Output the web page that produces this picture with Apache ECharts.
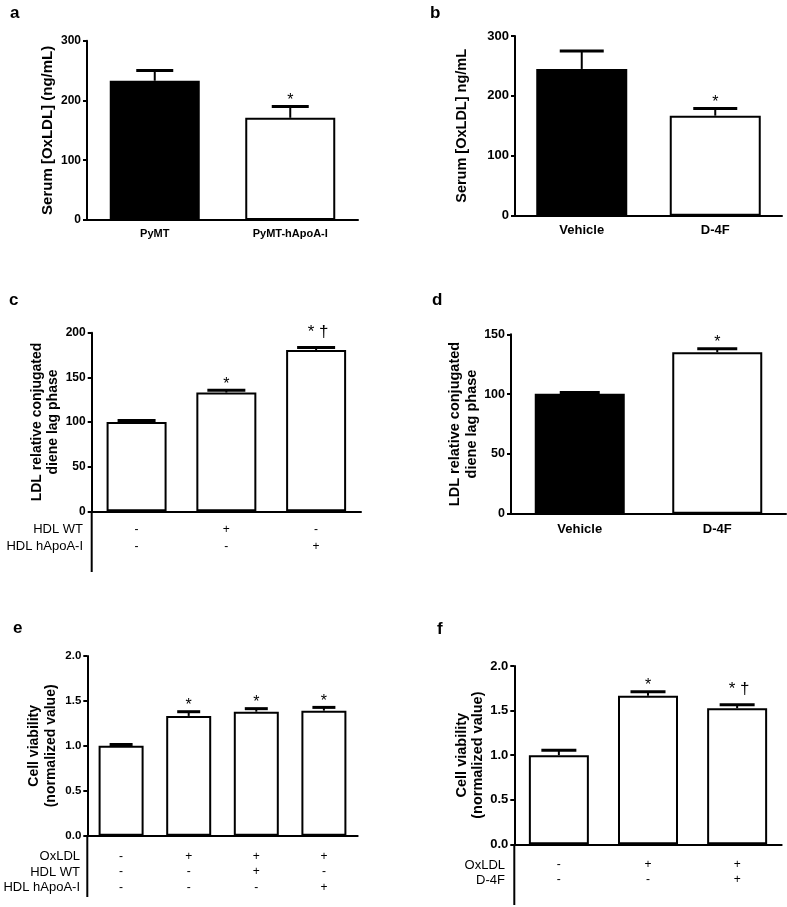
<!DOCTYPE html>
<html><head><meta charset="utf-8">
<script src="https://cdn.jsdelivr.net/npm/echarts@6/dist/echarts.min.js"></script>
<style>html,body{margin:0;padding:0;background:#fff}#c{width:787px;height:907px}</style>
</head><body><div id="c"></div>
<script>
// ---------- DATA ----------
const aCats = ['PyMT', 'PyMT-hApoA-I'];
const aMean = [233, 171];
const aUpper = [250, 190];
const aSig = ['', '*'];

const bCats = ['Vehicle', 'D-4F'];
const bMean = [245, 167];
const bUpper = [275, 179];
const bSig = ['', '*'];

const cHdlWt = ['-', '+', '-'];
const cHdlApoA = ['-', '-', '+'];
const cMean = [100, 133, 180.5];
const cUpper = [101.8, 135.6, 183.3];
const cSig = ['', '*', '* †'];

const dCats = ['Vehicle', 'D-4F'];
const dMean = [100.3, 135];
const dUpper = [101.3, 138];
const dSig = ['', '*'];

const eOxLDL = ['-', '+', '+', '+'];
const eHdlWt = ['-', '-', '+', '-'];
const eHdlApoA = ['-', '-', '-', '+'];
const eMean = [1.0, 1.333, 1.38, 1.392];
const eUpper = [1.015, 1.38, 1.414, 1.428];
const eSig = ['', '*', '*', '*'];

const fOxLDL = ['-', '+', '+'];
const fD4F = ['-', '-', '+'];
const fMean = [1.0, 1.665, 1.527];
const fUpper = [1.056, 1.71, 1.566];
const fSig = ['', '*', '* †'];

// ---------- STYLE ----------
const FONT = "'Liberation Sans', Arial, sans-serif";
const BLACK = '#000', WHITE = '#fff';

const panels = [
  {grid:{left:87, top:40.7, width:271, height:179.3}, cats:aCats, mean:aMean, upper:aUpper, sig:aSig,
   fills:[BLACK, WHITE], max:300, interval:100, dec:0, barW:90, capW:37,
   yName:'Serum [OxLDL] (ng/mL)', yNameSize:15, nameGap:31, lh:16, tickSize:12, xSize:11, xBold:true, xMargin:7},
  {grid:{left:515, top:36, width:267, height:179.7}, cats:bCats, mean:bMean, upper:bUpper, sig:bSig,
   fills:[BLACK, WHITE], max:300, interval:100, dec:0, barW:91, capW:44,
   yName:'Serum [OxLDL] ng/mL', yNameSize:14.5, nameGap:45, lh:16, tickSize:13, xSize:13, xBold:true, xMargin:7},
  {grid:{left:91.7, top:332.7, width:269.3, height:178.6}, cats:cHdlWt.map((v,i)=>v+'\n'+cHdlApoA[i]), mean:cMean, upper:cUpper, sig:cSig,
   fills:[WHITE, WHITE, WHITE], max:200, interval:50, dec:0, barW:60, capW:38,
   yName:'LDL relative conjugated\ndiene lag phase', yNameSize:14, nameGap:29, lh:16.5, tickSize:12, xSize:12, xBold:false, xMargin:9.5, rowLH:17.4},
  {grid:{left:511, top:334.3, width:275, height:179.4}, cats:dCats, mean:dMean, upper:dUpper, sig:dSig,
   fills:[BLACK, WHITE], max:150, interval:50, dec:0, barW:90, capW:40,
   yName:'LDL relative conjugated\ndiene lag phase', yNameSize:14.5, nameGap:30, lh:17, tickSize:12.5, xSize:13, xBold:true, xMargin:8},
  {grid:{left:87.3, top:656, width:270.4, height:179.7}, cats:eOxLDL.map((v,i)=>v+'\n'+eHdlWt[i]+'\n'+eHdlApoA[i]), mean:eMean, upper:eUpper, sig:eSig,
   fills:[WHITE, WHITE, WHITE, WHITE], max:2, interval:0.5, dec:1, barW:45, capW:23,
   yName:'Cell viability\n(normalized value)', yNameSize:14, nameGap:27, lh:17.5, tickSize:11.5, xSize:12, xBold:false, xMargin:13, rowLH:15.5},
  {grid:{left:514.3, top:666, width:267.4, height:178.3}, cats:fOxLDL.map((v,i)=>v+'\n'+fD4F[i]), mean:fMean, upper:fUpper, sig:fSig,
   fills:[WHITE, WHITE, WHITE], max:2, interval:0.5, dec:1, barW:60, capW:35,
   yName:'Cell viability\n(normalized value)', yNameSize:14.5, nameGap:27, lh:16, tickSize:13, xSize:12, xBold:false, xMargin:13, rowLH:15}
];

const grid = [], xAxis = [], yAxis = [], series = [];
panels.forEach((p, i) => {
  grid.push(Object.assign({containLabel:false}, p.grid));
  xAxis.push({
    type:'category', gridIndex:i, data:p.cats,
    axisLine:{lineStyle:{color:BLACK, width:2}}, axisTick:{show:false},
    axisLabel:{color:BLACK, fontFamily:FONT, fontSize:p.xSize, fontWeight:p.xBold?'bold':'normal',
      margin:p.xMargin, lineHeight:p.rowLH || p.xSize+2, interval:0}
  });
  yAxis.push({
    type:'value', gridIndex:i, min:0, max:p.max, interval:p.interval,
    axisLine:{show:true, lineStyle:{color:BLACK, width:2}},
    axisTick:{show:true, length:4, lineStyle:{color:BLACK, width:2}},
    splitLine:{show:false},
    axisLabel:{color:BLACK, fontFamily:FONT, fontSize:p.tickSize, fontWeight:'bold', margin:6,
      formatter:v => v.toFixed(p.dec)},
    name:p.yName, nameLocation:'middle', nameRotate:90, nameGap:p.nameGap,
    nameTextStyle:{color:BLACK, fontFamily:FONT, fontSize:p.yNameSize, fontWeight:'bold', lineHeight:p.lh, align:'center'}
  });
  series.push({
    type:'bar', xAxisIndex:i, yAxisIndex:i, barWidth:p.barW, z:2,
    data:p.mean.map((v,k) => ({value:v, itemStyle:{color:p.fills[k], borderColor:BLACK, borderWidth:2}})),
    animation:false
  });
  const capW = p.capW;
  series.push({
    type:'custom', xAxisIndex:i, yAxisIndex:i, z:5, animation:false,
    data:p.upper.map((u,k) => [k, u, p.mean[k]]),
    renderItem:(params, api) => {
      const k = api.value(0);
      const top = api.coord([k, api.value(1)]);
      const base = api.coord([k, api.value(2)]);
      const s = p.sig[k];
      const children = [
        {type:'line', shape:{x1:top[0], y1:base[1], x2:top[0], y2:top[1]}, style:{stroke:BLACK, lineWidth:2}},
        {type:'line', shape:{x1:top[0]-capW/2, y1:top[1], x2:top[0]+capW/2, y2:top[1]}, style:{stroke:BLACK, lineWidth:3}}
      ];
      if (s) {
        const dag = s.indexOf('†') >= 0;
        children.push({type:'text', style:{text:s, x:top[0]+(dag?2:0), y:top[1]-(dag?7:-2), align:'center', verticalAlign:'bottom',
          fontFamily:FONT, fontSize:dag?17:16, fill:BLACK}});
      }
      return {type:'group', children};
    }
  });
});

function label(text, x, y, opts) {
  return Object.assign({type:'text', x, y, style:Object.assign({text, fill:BLACK, font:'13px '+FONT, textAlign:'right', textVerticalAlign:'middle'}, opts||{})});
}
function vline(x, y1, y2) {
  return {type:'line', shape:{x1:x, y1:y1, x2:x, y2:y2}, style:{stroke:BLACK, lineWidth:2}};
}
const letters = [['a',10,13],['b',430,13],['c',9,300],['d',432,300],['e',13,628],['f',437,629]];
const graphic = letters.map(l => ({type:'text', x:l[1], y:l[2], style:{text:l[0], fill:BLACK, font:'bold 17px '+FONT, textVerticalAlign:'middle'}}));
graphic.push(
  label('HDL WT', 83, 529.3), label('HDL hApoA-I', 83, 546.7),
  label('OxLDL', 80, 856.7), label('HDL WT', 80, 872.7), label('HDL hApoA-I', 80, 887.7),
  label('OxLDL', 505, 865), label('D-4F', 505, 880),
  vline(91.7, 511, 572), vline(87.3, 835.7, 897), vline(514.3, 844.3, 905)
);

const chart = echarts.init(document.getElementById('c'), null, {renderer:'canvas'});
chart.setOption({backgroundColor:'#fff', animation:false, grid, xAxis, yAxis, series, graphic});
</script></body></html>
